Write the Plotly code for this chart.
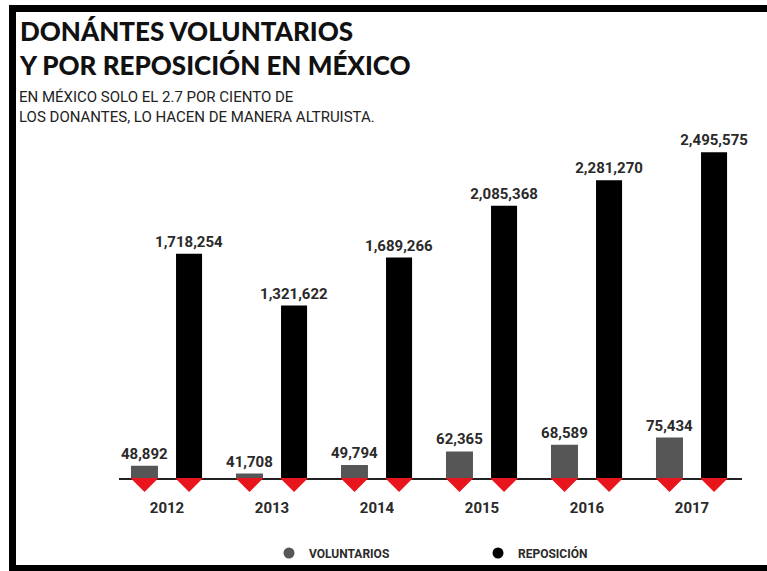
import plotly.graph_objects as go

# ---------------- data ----------------
YEARS = [2012, 2013, 2014, 2015, 2016, 2017]
YEAR_LABELS = ["2012", "2013", "2014", "2015", "2016", "2017"]
VOLUNTARIOS = [48892, 41708, 49794, 62365, 68589, 75434]
REPOSICION = [1718254, 1321622, 1689266, 2085368, 2281270, 2495575]

TITLE = "DONÁNTES VOLUNTARIOS<br>Y POR REPOSICIÓN EN MÉXICO"
SUBTITLE = "EN MÉXICO SOLO EL 2.7 POR CIENTO DE<br>LOS DONANTES, LO HACEN DE MANERA ALTRUISTA."
LEGEND_NAMES = ["VOLUNTARIOS", "REPOSICIÓN"]

# ---------------- style / layout ----------------
W, H = 767, 571
PL, PR = 119, 742              # plot area left/right (px)
PT, BASE, PB = 140, 478, 492   # plot top, baseline, strip bottom (px)
GREY, BLACK, RED, TXT = "#565656", "#000000", "#e9151d", "#2a2a2a"
FONT = "Roboto"
TITLE_FONT = "Lato"

PX_PER_UNIT_X = 105.0
X0 = YEARS[0] - (167 - PL) / PX_PER_UNIT_X
X1 = X0 + (PR - PL) / PX_PER_UNIT_X

plot_h = PB - PT
main_h = BASE - PT
strip = (PB - BASE) / plot_h

# scales (px per data unit)
REP_SCALE = 0.1305 / 1000
VOL_SCALE = 1.067 / 1000
VOL_ORIGIN = 37500

GREY_OFF, GREY_W = -0.343, 0.257
BLACK_OFF, BLACK_W = 0.086, 0.248
TRI_HALF = 14 / PX_PER_UNIT_X


def px_x(px):
    return (px - PL) / (PR - PL)


def px_y(py):
    return (PB - py) / plot_h


fig = go.Figure()

fig.add_trace(go.Bar(
    x=YEARS, y=VOLUNTARIOS, name=LEGEND_NAMES[0], yaxis="y2",
    offset=GREY_OFF, width=GREY_W, marker=dict(color=GREY, line=dict(width=0)),
    texttemplate="%{y:,}", textposition="outside", cliponaxis=False,
    constraintext="none",
    textfont=dict(family=FONT, size=15, color=TXT, weight="bold"),
    showlegend=False,
))
fig.add_trace(go.Bar(
    x=YEARS, y=REPOSICION, name=LEGEND_NAMES[1], yaxis="y",
    offset=BLACK_OFF, width=BLACK_W, marker=dict(color=BLACK, line=dict(width=0)),
    texttemplate="%{y:,}", textposition="outside", cliponaxis=False,
    constraintext="none",
    textfont=dict(family=FONT, size=15, color=TXT, weight="bold"),
    showlegend=False,
))

# red triangles below each bar
tx, ty = [], []
for yr in YEARS:
    for off, w in ((GREY_OFF, GREY_W), (BLACK_OFF, BLACK_W)):
        c = yr + off + w / 2
        tx += [c - TRI_HALF, c + TRI_HALF, c, c - TRI_HALF, None]
        ty += [0, 0, -1, 0, None]
fig.add_trace(go.Scatter(
    x=tx, y=ty, yaxis="y3", mode="lines", fill="toself",
    fillcolor=RED, line=dict(width=0, color=RED),
    hoverinfo="skip", showlegend=False,
))

# legend entries (circles)
for name, col in zip(LEGEND_NAMES, (GREY, BLACK)):
    fig.add_trace(go.Scatter(
        x=[None], y=[None], mode="markers", name=name,
        marker=dict(symbol="circle", size=11, color=col),
    ))

fig.update_layout(
    width=W, height=H,
    margin=dict(l=PL, r=W - PR, t=PT, b=H - PB, autoexpand=False),
    paper_bgcolor="white", plot_bgcolor="white",
    barmode="overlay",
    font=dict(family=FONT, color=TXT),
    xaxis=dict(
        range=[X0, X1], anchor="y", tickvals=YEARS, ticktext=YEAR_LABELS,
        showgrid=False, zeroline=False, showline=True, linecolor="#222",
        linewidth=2, ticks="", ticklabelstandoff=15, automargin=False,
        tickfont=dict(family=FONT, size=15, color=TXT, weight="bold"),
    ),
    yaxis=dict(domain=[strip, 1], range=[0, main_h / REP_SCALE], visible=False,
               automargin=False),
    yaxis2=dict(overlaying="y", range=[VOL_ORIGIN, VOL_ORIGIN + main_h / VOL_SCALE],
                visible=False, automargin=False),
    yaxis3=dict(domain=[0, strip], range=[-1, 0], visible=False, anchor="x",
                automargin=False),
    showlegend=True,
    legend=dict(
        orientation="h", xref="container", yref="container",
        x=269 / W, y=1 - 553 / H,
        xanchor="left", yanchor="middle",
        entrywidthmode="pixels", entrywidth=164,
        font=dict(family=FONT, size=12, color=TXT, weight="bold"),
        bgcolor="rgba(0,0,0,0)",
    ),
)

# title & subtitle
fig.add_annotation(
    text=TITLE, xref="paper", yref="paper", x=px_x(17), y=px_y(13),
    xanchor="left", yanchor="top", align="left", showarrow=False,
    font=dict(family=TITLE_FONT, size=26, color="#111", weight=900),
)
fig.add_annotation(
    text=SUBTITLE, xref="paper", yref="paper", x=px_x(17), y=px_y(86),
    xanchor="left", yanchor="top", align="left", showarrow=False,
    font=dict(family=FONT, size=15, color="#222"),
)

# black frame (left, top, bottom)
for x0, y0, x1, y1 in ((9, 5, 16, 571), (9, 5, 767, 12), (9, 565, 767, 571)):
    fig.add_shape(type="rect", xref="paper", yref="paper",
                  x0=px_x(x0), x1=px_x(x1), y0=px_y(y0), y1=px_y(y1),
                  fillcolor="#000", line=dict(width=0), layer="above")

fig.write_html(
    "out.html",
    config={"displayModeBar": False},
    post_script="document.body.style.margin='0';document.body.style.overflow='hidden';",
)
